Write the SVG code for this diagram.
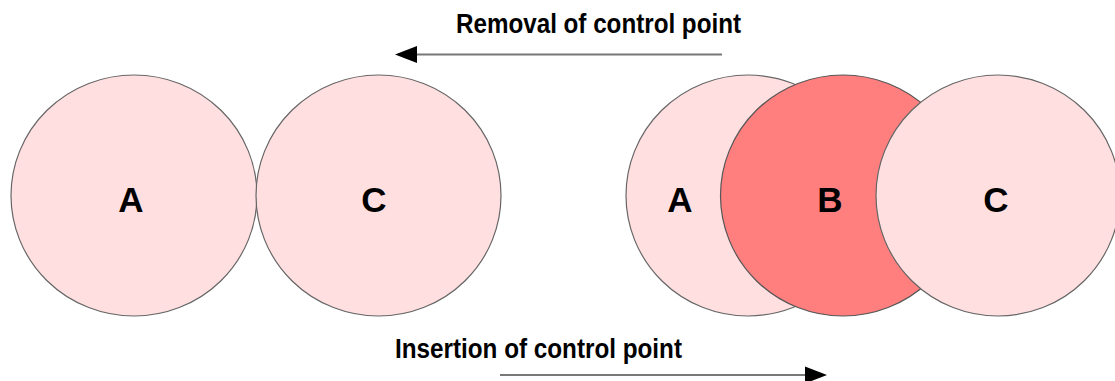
<svg xmlns="http://www.w3.org/2000/svg" width="1115" height="381" viewBox="0 0 1115 381">
<style>
.light{fill:#ffdfe0;stroke:#666;stroke-width:1.2}
.dark{fill:#ff7f7f;stroke:#555;stroke-width:1.2}
.lbl{font-family:"Liberation Sans",Arial,sans-serif;font-weight:bold;font-size:35px;fill:#000;text-anchor:middle}
.cap{font-family:"Liberation Sans",Arial,sans-serif;font-weight:bold;font-size:27px;fill:#000}
.arr{stroke:#777;stroke-width:2;fill:none}
</style>
<rect width="1115" height="381" fill="#fff"/>
<g id="left-A"><ellipse class="light" cx="134" cy="195.5" rx="123" ry="120.5"/><text class="lbl" x="131" y="212">A</text></g>
<g id="left-C"><ellipse class="light" cx="378.5" cy="195.5" rx="122.5" ry="120.5"/><text class="lbl" x="374" y="212">C</text></g>
<g id="right-A"><ellipse class="light" cx="748" cy="195.5" rx="122" ry="120.5"/><text class="lbl" x="680" y="212">A</text></g>
<g id="right-B"><ellipse class="dark" cx="843" cy="195.5" rx="122.5" ry="120.5"/><text class="lbl" x="830" y="212">B</text></g>
<g id="right-C"><ellipse class="light" cx="998" cy="195.5" rx="122" ry="120.5"/><text class="lbl" x="996" y="212">C</text></g>
<g id="connectors">
<line class="arr" x1="722" y1="54.5" x2="414" y2="54.5"/>
<polygon points="395,54.5 417,46 417,63" fill="#000"/>
<line class="arr" x1="500" y1="375" x2="807" y2="375"/>
<polygon points="827,375 805,366.5 805,383.5" fill="#000"/>
</g>
<text class="cap" x="456" y="33" textLength="285" lengthAdjust="spacingAndGlyphs">Removal of control point</text>
<text class="cap" x="395" y="357.5" textLength="287" lengthAdjust="spacingAndGlyphs">Insertion of control point</text>
</svg>
